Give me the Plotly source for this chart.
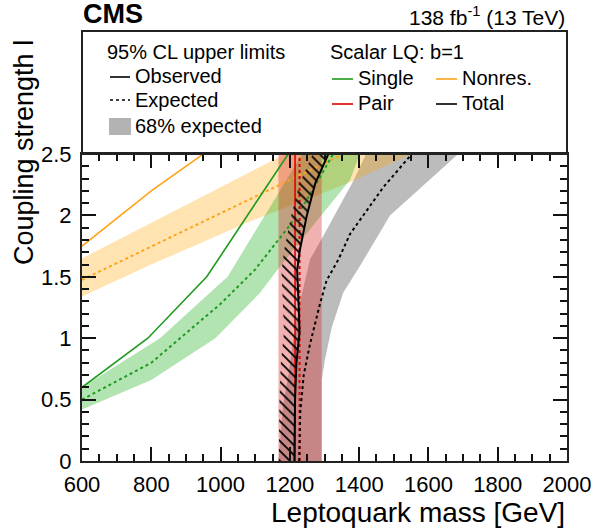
import plotly.graph_objects as go

# ---------------- data (mass in GeV, coupling lambda) ----------------
NONRES_OBS_MASS = [600, 800, 1000]
NONRES_OBS_L = [1.75, 2.20, 2.60]
NONRES_EXP_MASS = [600, 800, 1000, 1200, 1400]
NONRES_EXP_L = [1.475, 1.745, 2.02, 2.29, 2.56]
NONRES_BAND_HI_MASS = [600, 800, 1000, 1200]
NONRES_BAND_HI_L = [1.65, 1.94, 2.23, 2.52]
NONRES_BAND_LO_MASS = [600, 800, 1085, 1374, 1560]
NONRES_BAND_LO_L = [1.34, 1.60, 1.95, 2.27, 2.51]

SINGLE_OBS_MASS = [600, 790, 960, 1200]
SINGLE_OBS_L = [0.60, 1.00, 1.50, 2.52]
SINGLE_EXP_MASS = [600, 800, 1000, 1100, 1200, 1250, 1325]
SINGLE_EXP_L = [0.50, 0.80, 1.28, 1.56, 1.92, 2.13, 2.50]
SINGLE_BAND_HI_MASS = [600, 825, 1020, 1100, 1240]
SINGLE_BAND_HI_L = [0.60, 1.00, 1.50, 1.87, 2.52]
SINGLE_BAND_LO_MASS = [600, 800, 985, 1114, 1162, 1374, 1405]
SINGLE_BAND_LO_L = [0.42, 0.66, 1.00, 1.37, 1.55, 2.29, 2.52]

PAIR_L = [0.0, 2.5]
PAIR_OBS_MASS = [1215, 1215]
PAIR_EXP_MASS = [1228, 1228]
PAIR_BAND_LO_MASS = [1167, 1167]
PAIR_BAND_HI_MASS = [1292, 1292]

TOTAL_OBS_L = [0.0, 0.5, 0.8, 1.05, 1.3, 1.55, 1.72, 2.0, 2.26, 2.5]
TOTAL_OBS_MASS = [1213, 1215, 1219, 1228, 1225, 1221, 1229, 1249, 1273, 1311]
TOTAL_EXP_L = [0.0, 0.4, 0.7, 0.95, 1.28, 1.47, 1.64, 1.85, 2.23, 2.5]
TOTAL_EXP_MASS = [1227, 1230, 1240, 1258, 1287, 1306, 1340, 1374, 1470, 1552]
TOTAL_BAND_LO_L = [0.0, 0.47, 0.7, 1.0, 1.3, 1.64, 1.85, 2.29, 2.5]
TOTAL_BAND_LO_MASS = [1167, 1181, 1196, 1210, 1230, 1258, 1300, 1385, 1420]
TOTAL_BAND_HI_L = [0.0, 0.66, 0.82, 1.09, 1.37, 1.6, 2.0, 2.5]
TOTAL_BAND_HI_MASS = [1292, 1292, 1301, 1321, 1354, 1405, 1489, 1686]

X_TICKS = [600, 800, 1000, 1200, 1400, 1600, 1800, 2000]
Y_TICKS = [0, 0.5, 1, 1.5, 2, 2.5]

# ---------------- style ----------------
FONT = "Liberation Sans, Arial, Helvetica, sans-serif"
C_GREEN = "#1f9a1f"
C_ORANGE = "#ffa31a"
C_RED = "#e00000"
C_BLACK = "#000000"
F_GREEN = "rgba(0,165,0,0.30)"
F_ORANGE = "rgba(255,165,0,0.30)"
F_RED = "rgba(215,40,40,0.36)"
F_GRAY = "rgba(140,140,140,0.58)"
DOT = "3px,3px"
HATCH_SHIFT = 45  # GeV, width of the hatched excluded-side band

W, H = 593, 531
ML, MR, MT, MB = 82, 26, 31, 70
PW, PH = W - ML - MR, H - MT - MB
MAIN_TOP = 307 / PH


def P(px, py):
    return (px - ML) / PW, (H - MB - py) / PH


fig = go.Figure()


def band_h(xhi, yhi, xlo, ylo, fill):
    fig.add_trace(go.Scatter(x=list(xhi) + list(xlo)[::-1], y=list(yhi) + list(ylo)[::-1],
                             mode="lines", fill="toself", fillcolor=fill,
                             line=dict(width=0), hoverinfo="skip"))


def band_v(lv, xlo, lv2, xhi, fill):
    fig.add_trace(go.Scatter(x=list(xlo) + list(xhi)[::-1], y=list(lv) + list(lv2)[::-1],
                             mode="lines", fill="toself", fillcolor=fill,
                             line=dict(width=0), hoverinfo="skip"))


def line(x, y, color, width, dash=None):
    fig.add_trace(go.Scatter(x=x, y=y, mode="lines",
                             line=dict(color=color, width=width, dash=dash),
                             hoverinfo="skip"))


# bands
band_v(TOTAL_BAND_LO_L, TOTAL_BAND_LO_MASS, TOTAL_BAND_HI_L, TOTAL_BAND_HI_MASS, F_GRAY)
band_h(NONRES_BAND_HI_MASS, NONRES_BAND_HI_L, NONRES_BAND_LO_MASS, NONRES_BAND_LO_L, F_ORANGE)
band_h(SINGLE_BAND_HI_MASS, SINGLE_BAND_HI_L, SINGLE_BAND_LO_MASS, SINGLE_BAND_LO_L, F_GREEN)
band_v(PAIR_L, PAIR_BAND_LO_MASS, PAIR_L, PAIR_BAND_HI_MASS, F_RED)

# lines
line(NONRES_OBS_MASS, NONRES_OBS_L, C_ORANGE, 1.6)
line(NONRES_EXP_MASS, NONRES_EXP_L, C_ORANGE, 2, DOT)
line(SINGLE_OBS_MASS, SINGLE_OBS_L, C_GREEN, 1.6)
line(SINGLE_EXP_MASS, SINGLE_EXP_L, C_GREEN, 2, DOT)
line(PAIR_OBS_MASS, PAIR_L, C_RED, 1.6)
line(PAIR_EXP_MASS, PAIR_L, C_RED, 2, DOT)

# hatch on excluded side of total observed
hx = list(TOTAL_OBS_MASS) + [m - HATCH_SHIFT for m in TOTAL_OBS_MASS][::-1]
hy = list(TOTAL_OBS_L) + list(TOTAL_OBS_L)[::-1]
fig.add_trace(go.Scatter(x=hx, y=hy, mode="lines", fill="toself",
                         fillcolor="rgba(0,0,0,0)", line=dict(width=0),
                         fillpattern=dict(shape="\\", fgcolor="black", bgcolor="rgba(0,0,0,0)",
                                          fgopacity=1, size=7, solidity=0.25),
                         hoverinfo="skip"))
line(TOTAL_EXP_MASS, TOTAL_EXP_L, C_BLACK, 2, DOT)
line(TOTAL_OBS_MASS, TOTAL_OBS_L, C_BLACK, 2)

# ---------------- legend (drawn in the box above the plot) ----------------
shapes = []
annotations = []
LEG_FONT = dict(family=FONT, size=20, color="black")


def leg_line(px0, px1, py, color, dash=None, width=1.6):
    x0, y0 = P(px0, py)
    x1, _ = P(px1, py)
    shapes.append(dict(type="line", xref="paper", yref="paper", x0=x0, x1=x1, y0=y0, y1=y0,
                       line=dict(color=color, width=width, dash=dash)))


def leg_text(px, py, text):
    x, y = P(px, py)
    annotations.append(dict(xref="paper", yref="paper", x=x, y=y, text=text, showarrow=False,
                            xanchor="left", yanchor="middle", font=LEG_FONT))


leg_text(105, 52, "95% CL upper limits")
leg_line(110, 130, 77, C_BLACK)
leg_text(133, 76, "Observed")
leg_line(110, 130, 100, C_BLACK, DOT, 1.6)
leg_text(133, 100, "Expected")
bx0, by0 = P(109, 135)
bx1, by1 = P(131, 118)
shapes.append(dict(type="rect", xref="paper", yref="paper", x0=bx0, x1=bx1, y0=by0, y1=by1,
                   fillcolor="#b3b3b3", line=dict(width=0)))
leg_text(133, 126, "68% expected")

leg_text(328, 52, "Scalar LQ: b=1")
leg_line(332, 353, 79, C_GREEN)
leg_text(356, 78, "Single")
leg_line(436, 457, 79, C_ORANGE)
leg_text(460, 78, "Nonres.")
leg_line(332, 353, 104, C_RED)
leg_text(356, 103, "Pair")
leg_line(436, 457, 104, C_BLACK)
leg_text(460, 103, "Total")

# frame of the legend region
shapes.append(dict(type="rect", xref="paper", yref="paper", x0=0, x1=1, y0=MAIN_TOP, y1=1,
                   line=dict(color="#222", width=2), layer="above"))

# header texts
x, y = P(81, 14)
annotations.append(dict(xref="paper", yref="paper", x=x, y=y, text="<b>CMS</b>", showarrow=False,
                        xanchor="left", yanchor="middle",
                        font=dict(family=FONT, size=27, color="black")))
x, y = P(567, 16)
annotations.append(dict(xref="paper", yref="paper", x=x, y=y,
                        text="138 fb<sup>-1</sup> (13 TeV)", showarrow=False,
                        xanchor="right", yanchor="middle",
                        font=dict(family=FONT, size=21, color="black")))
# axis titles
x, y = P(567, 512)
annotations.append(dict(xref="paper", yref="paper", x=x, y=y, text="Leptoquark mass [GeV]",
                        showarrow=False, xanchor="right", yanchor="middle",
                        font=dict(family=FONT, size=28, color="black")))
x, y = P(24, 153)
annotations.append(dict(xref="paper", yref="paper", x=x, y=y, text="Coupling strength l",
                        showarrow=False, xanchor="center", yanchor="middle", textangle=-90,
                        font=dict(family=FONT, size=27, color="black")))

axis_common = dict(ticks="inside", ticklen=14, tickwidth=1.5, tickcolor="#111",
                   showline=True, linewidth=2, linecolor="#222", mirror="ticks",
                   showgrid=False, zeroline=False, automargin=False,
                   tickfont=dict(family=FONT, size=22, color="black"))

fig.update_layout(
    width=W, height=H, autosize=False,
    margin=dict(l=ML, r=MR, t=MT, b=MB, pad=0, autoexpand=False),
    paper_bgcolor="white", plot_bgcolor="white",
    showlegend=False,
    shapes=shapes, annotations=annotations,
    xaxis=dict(range=[600, 2000], tickvals=X_TICKS, ticklabelstandoff=3,
               minor=dict(ticks="inside", ticklen=7, tickwidth=1.5, dtick=50, tickcolor="#111"),
               **axis_common),
    yaxis=dict(range=[0, 2.5], domain=[0, MAIN_TOP], tickvals=Y_TICKS, ticklabelstandoff=4,
               minor=dict(ticks="inside", ticklen=7, tickwidth=1.5, dtick=0.1, tickcolor="#111"),
               **axis_common),
)

fig.write_html("out.html", config={"displayModeBar": False},
               post_script="document.body.style.margin='0';document.body.style.padding='0';")
